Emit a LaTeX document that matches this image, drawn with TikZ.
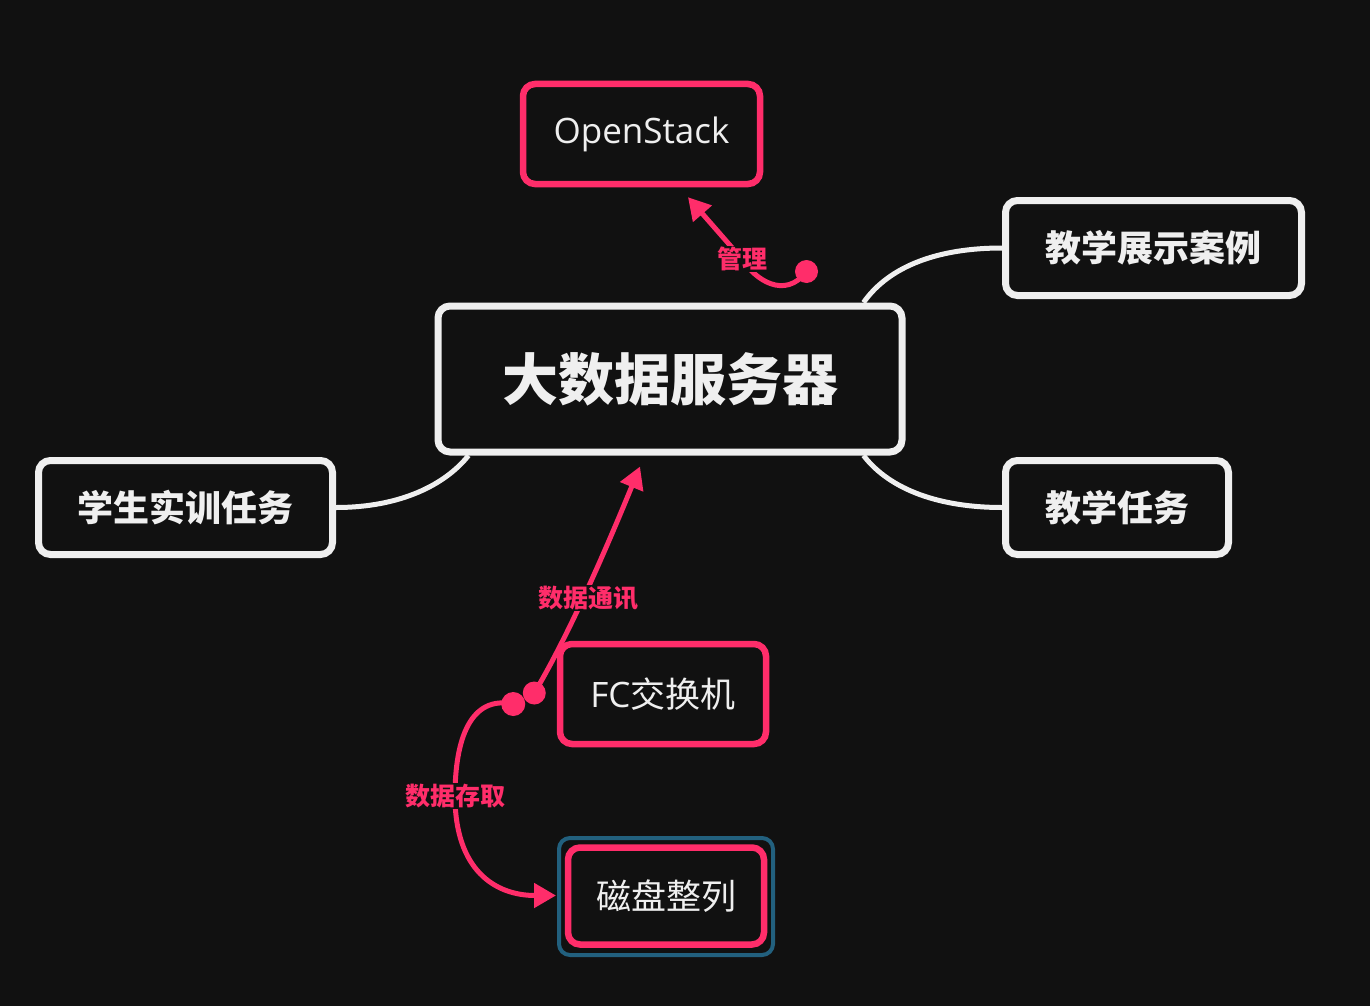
\documentclass[tikz,border=0pt]{standalone}
\usepackage{fontspec}
\newfontfamily\cjk{Noto Sans CJK SC}
\newfontfamily\latin{Open Sans}
\usetikzlibrary{arrows.meta,calc}
\definecolor{bg}{HTML}{111111}
\definecolor{fg}{HTML}{EFEFEF}
\definecolor{accent}{HTML}{FF2D6A}
\definecolor{frame}{HTML}{22607E}
\begin{document}
\begin{tikzpicture}[x=1pt,y=-1pt,
  box/.style={rounded corners=12pt, fill=bg, text=fg, inner sep=0pt, align=center},
  whitebox/.style={box, draw=fg, line width=7pt, font=\cjk\bfseries\fontsize{36}{40}\selectfont},
  redbox/.style={box, draw=accent, line width=6.5pt, font=\cjk\fontsize{35}{40}\selectfont},
  branch/.style={draw=fg, line width=5pt},
  rline/.style={draw=accent, line width=5pt},
  rarrow/.style={rline, -{Triangle[length=22pt,width=24pt]}},
  lab/.style={fill=bg, text=accent, inner sep=1pt, font=\cjk\bfseries\fontsize{25}{28}\selectfont},
  dot/.style={fill=accent}
]
% canvas
\fill[bg] (0,0) rectangle (1370,1006);
\useasboundingbox (0,0) rectangle (1370,1006);

% boxes
\node[whitebox, minimum width=464pt, minimum height=146pt,
      font=\cjk\bfseries\fontsize{56}{60}\selectfont] (core) at (670,379) {大数据服务器};
\node[redbox, minimum width=237pt, minimum height=100pt,
      font=\latin\fontsize{35}{40}\selectfont] (os) at (641.5,134) {OpenStack};
\node[whitebox, minimum width=296pt, minimum height=95pt] (show) at (1153.5,248) {教学展示案例};
\node[whitebox, minimum width=223pt, minimum height=94pt] (task) at (1117,507.5) {教学任务};
\node[whitebox, minimum width=294pt, minimum height=94pt] (stu) at (185.5,507.5) {学生实训任务};
\node[redbox, minimum width=206pt, minimum height=100pt] (fc) at (663,694) {{\latin FC}交换机};
\node[draw=frame, line width=4pt, rounded corners=11pt, minimum width=214pt, minimum height=117pt,
      inner sep=0pt] (diskframe) at (666,896.5) {};
\node[redbox, minimum width=196pt, minimum height=97pt] (disk) at (666,896) {磁盘整列};

% white branches
\draw[branch] ($(core.north east)+(-42,0)$) .. controls (890,265) and (940,248) .. (show.west);
\draw[branch] ($(core.south east)+(-42,0)$) .. controls (890,490) and (940,507.5) .. (task.west);
\draw[branch] (stu.east) .. controls (400,507.5) and (445,485) .. ($(core.south west)+(34,0)$);

% red relations
\coordinate (mgmt) at ($(core.north east)+(-99,-31)$);
\coordinate (ostip) at ($(os.south)+(46.5,10)$);
\draw[rarrow] (mgmt) .. controls (785,300) and (755,280) .. (742,259) -- (ostip);
\fill[dot] (mgmt) circle[radius=11.5pt];
\node[lab] (lmgmt) at (742,259) {管理};

\coordinate (fcup) at ($(fc.west)+(-22.5,-1)$);
\coordinate (coretip) at ($(core.south)+(-30,11)$);
\draw[rarrow] (fcup) .. controls (575,625) and (620,515) .. (coretip);
\node[lab] (lcomm) at (588,598) {数据通讯};

\coordinate (fcdown) at ($(fc.west)+(-43.5,10)$);
\coordinate (disktip) at ($(diskframe.west)+(-1,-1)$);
\draw[rarrow] (fcdown) .. controls (470,695) and (455,740) .. (455,796)
              .. controls (455,870) and (495,895.5) .. (disktip);
\node[lab] (lstore) at (455,796) {数据存取};

\fill[dot] (fcdown) circle[radius=12pt];
\fill[dot] (fcup) circle[radius=11.5pt];
\end{tikzpicture}
\end{document}
